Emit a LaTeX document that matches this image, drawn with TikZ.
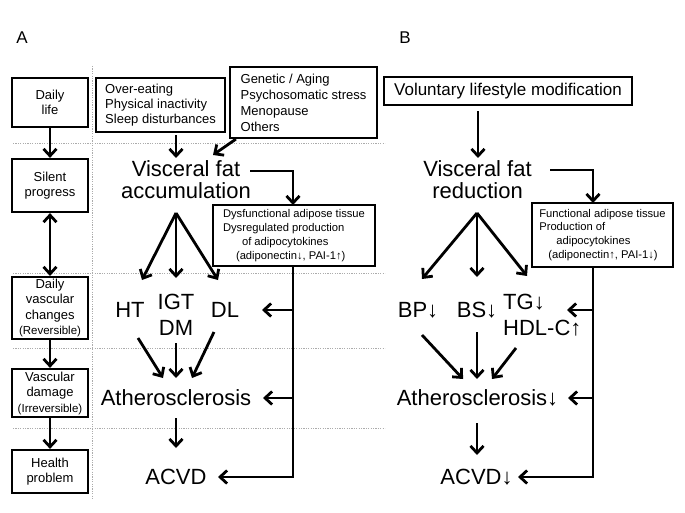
\documentclass[tikz,border=0pt]{standalone}
\usepackage{fontspec}
\setmainfont{Liberation Sans}
\usetikzlibrary{arrows.meta}
\begin{document}
\begin{tikzpicture}[x=1pt,y=-1pt,
  box/.style={draw,line width=2.2pt,inner sep=0pt},
  arr/.style={line width=2.8pt,-{Straight Barb[length=7pt,width=13pt]}},
  darr/.style={line width=2.8pt,{Straight Barb[length=7pt,width=13pt]}-{Straight Barb[length=7pt,width=13pt]}},
  grid/.style={draw=gray!65,line width=0.7pt,dash pattern=on 1.2pt off 1.2pt},
  big/.style={font=\fontsize{22}{22}\selectfont,inner sep=0pt,align=center},
  bigtwo/.style={font=\fontsize{22}{26}\selectfont,inner sep=0pt},
  lbl/.style={font=\fontsize{13}{15.5}\selectfont,align=center},
  small/.style={font=\fontsize{11.2}{13.8}\selectfont,align=left},
  panel/.style={font=\fontsize{17}{17}\selectfont,inner sep=0pt},
]
\useasboundingbox (0,0) rectangle (685,513);

% panel labels
\node[panel] (la) at (22,38) {A};
\node[panel] (lb) at (405,38) {B};

% dotted guide lines
\foreach \yy in {143,273,348,428} \draw[grid] (13,\yy) -- (385,\yy);
\draw[grid] (92,66) -- (92,500);

% left column
\node[box,lbl,minimum width=76pt,minimum height=49pt] (dl) at (50,102.5) {Daily\\life};
\node[box,lbl,minimum width=76pt,minimum height=53pt] (sp) at (50,185.5) {Silent\\progress};
\node[box,lbl,minimum width=76pt,minimum height=62pt] (dvc) at (50,308) {Daily\\vascular\\changes\\{\fontsize{11.5}{14}\selectfont(Reversible)}};
\node[box,lbl,minimum width=76pt,minimum height=48pt] (vd) at (50,393) {Vascular\\damage\\{\fontsize{11.5}{14}\selectfont(Irreversible)}};
\node[box,lbl,minimum width=76pt,minimum height=43pt] (hp) at (50,471.5) {Health\\problem};
\draw[arr] (dl) -- (sp);
\draw[darr] (sp) -- (dvc);
\draw[arr] (dvc) -- (vd);
\draw[arr] (vd) -- (hp);

% ---------- panel A ----------
\node[box,font=\fontsize{13}{15}\selectfont,align=left,minimum width=129pt,minimum height=54pt] (oe) at (160.5,105) {Over-eating\\Physical inactivity\\Sleep disturbances};
\node[box,font=\fontsize{13}{16}\selectfont,align=left,minimum width=147pt,minimum height=71pt] (gen) at (303.5,102.5) {Genetic / Aging\\Psychosomatic stress\\Menopause\\Others};
\node[big] (vfa) at (186,179.5) {Visceral fat\\accumulation};
\node[box,small,minimum width=162pt,minimum height=61pt] (dys) at (294,235.5) {Dysfunctional adipose tissue\\Dysregulated production\\\hspace*{19pt}of adipocytokines\\\hspace*{13pt}(adiponectin↓, PAI-1↑)};
\node[big] (ht) at (130,310) {HT};
\node[bigtwo,align=center] (igt) at (176,315) {IGT\\DM};
\node[big] (dlp) at (225,310) {DL};
\node[big] (ath) at (176,398) {Atherosclerosis};
\node[big] (acvd) at (176,477) {ACVD};

\coordinate (t1) at (176,158);
\draw[arr,shorten <=2pt] (oe.south -| t1) -- (t1);
\coordinate (t2) at (213,155);
\draw[arr] ([xshift=7pt]gen.south west) -- (t2);
\coordinate (c1) at (250,171);
\coordinate (k1) at (293,205);
\draw[arr] (c1) -| (k1);

\coordinate (o1) at (176,213);
\coordinate (a1) at (142,280);
\coordinate (a2) at (176,278);
\coordinate (a3) at (218,280);
\draw[arr] (o1) -- (a1);
\draw[arr] (o1) -- (a2);
\draw[arr] (o1) -- (a3);

\coordinate (b1s) at (138,338); \coordinate (b1e) at (163,378);
\coordinate (b2s) at (176,343); \coordinate (b2e) at (176,378);
\coordinate (b3s) at (214,332); \coordinate (b3e) at (192,378);
\draw[arr] (b1s) -- (b1e);
\draw[arr] (b2s) -- (b2e);
\draw[arr] (b3s) -- (b3e);

\coordinate (d1s) at (176,418); \coordinate (d1e) at (176,448);
\draw[arr] (d1s) -- (d1e);

\coordinate (tacvd) at (218,477);
\coordinate (tdl) at (262,310);
\coordinate (tath) at (263,398);
\draw[arr] (dys.south -| k1) |- (tacvd);
\draw[arr] (tdl -| k1) -- (tdl);
\draw[arr] (tath -| k1) -- (tath);

% ---------- panel B ----------
\node[box,font=\fontsize{17}{17}\selectfont,minimum width=248pt,minimum height=28pt] (vol) at (508,91) {Voluntary lifestyle modification};
\node[big] (vfr) at (477.5,179.5) {Visceral fat\\reduction};
\node[box,small,minimum width=141pt,minimum height=64pt] (fun) at (602.5,235) {Functional adipose tissue\\Production of\\\hspace*{17pt}adipocytokines\\\hspace*{9pt}(adiponectin↑, PAI-1↓)};
\node[big] (bp) at (418,310) {BP↓};
\node[big] (bs) at (477,310) {BS↓};
\node[bigtwo,align=left,anchor=west] (tg) at (503,315) {TG↓\\HDL-C↑};
\node[big] (athb) at (477.5,398) {Atherosclerosis↓};
\node[big] (acvdb) at (476.5,477) {ACVD↓};

\coordinate (t3) at (478,158);
\draw[arr,shorten <=5pt] (vol.south -| t3) -- (t3);
\coordinate (c2) at (550,170);
\coordinate (k2) at (593,203);
\draw[arr] (c2) -| (k2);

\coordinate (o2) at (477,213);
\coordinate (e1) at (422,279);
\coordinate (e2) at (477,277);
\coordinate (e3) at (527,276);
\draw[arr] (o2) -- (e1);
\draw[arr] (o2) -- (e2);
\draw[arr] (o2) -- (e3);

\coordinate (f1s) at (422,335); \coordinate (f1e) at (463,379);
\coordinate (f2s) at (477,332); \coordinate (f2e) at (477,379);
\coordinate (f3s) at (516,348); \coordinate (f3e) at (492,379);
\draw[arr] (f1s) -- (f1e);
\draw[arr] (f2s) -- (f2e);
\draw[arr] (f3s) -- (f3e);

\coordinate (g1s) at (477,423); \coordinate (g1e) at (477,455);
\draw[arr] (g1s) -- (g1e);

\coordinate (tacvdb) at (518,477);
\coordinate (ttg) at (567,310);
\coordinate (tathb) at (568,398);
\draw[arr] (fun.south -| k2) |- (tacvdb);
\draw[arr] (ttg -| k2) -- (ttg);
\draw[arr] (tathb -| k2) -- (tathb);
\end{tikzpicture}
\end{document}
